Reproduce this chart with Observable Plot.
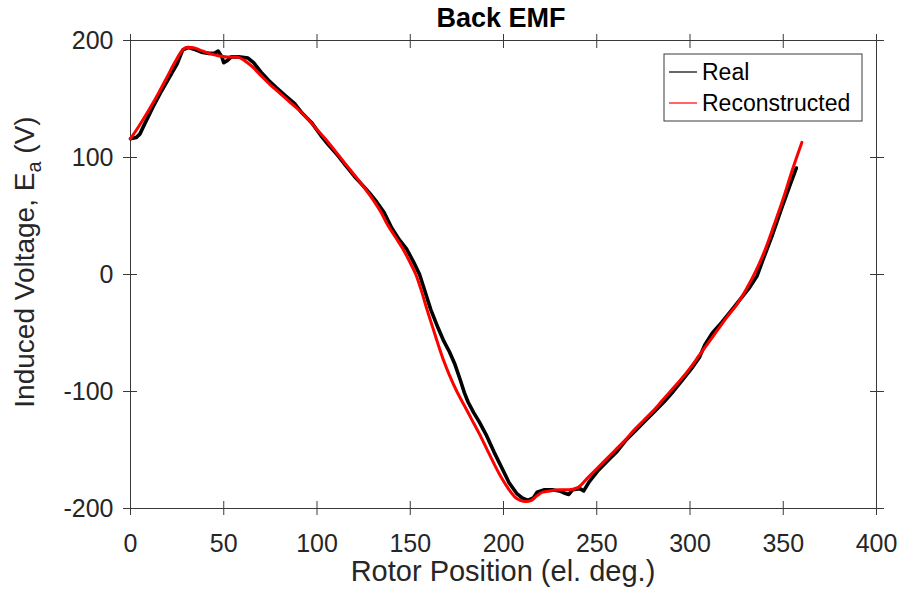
<!DOCTYPE html>
<html><head><meta charset="utf-8">
<script src="https://cdn.jsdelivr.net/npm/d3@7"></script>
<script src="https://cdn.jsdelivr.net/npm/@observablehq/plot@0.6"></script>
<style>body{margin:0;background:#fff} svg{display:block}</style>
</head><body><div id="chart"></div>
<script>
// Measured (Real) back EMF
const realX = [0,3,5,8,12,16,21,25,28,31,35,38,42,45,47,49,50,52,54,58,63,66,70,74,78,83,88,92,97,102,106,111,115,120,124,128,132,136,140,144,148,152,155,158,161,165,168,171,174,177,179,181,184,187,191,195,199,203,207,210,213,216,218,222,226,230,233,235,237,241,243,246,251,256,261,266,271,276,281,286,291,296,301,305,308,312,317,322,327,332,336,339,344,349,354,357];
const realY = [116,117,120,130,143,155,169,180,192,194,192,190,189,189,191,186,181,183,186,186,185,181,173,166,160,153,146,138,130,119,111,102,94,84,77,70,62,53,40,30,22,10,0,-15,-30,-46,-57,-66,-77,-91,-101,-109,-118,-126,-138,-152,-165,-178,-187,-191,-193,-191,-186,-184,-184,-185,-187,-188,-184,-183,-185,-177,-167,-159,-151,-141,-133,-125,-117,-109,-100,-90,-80,-71,-60,-50,-41,-31,-21,-11,-1,12,33,56,78,91];
// Reconstructed back EMF
const reconX = [0,5,10,15,20,24,27,30,33,37,42,47,52,57,61,65,70,75,80,85,90,95,100,105,110,115,120,125,130,134,138,142,146,150,153,156,159,162,165,168,171,175,179,183,187,191,195,199,203,206,209,212,215,218,221,225,230,235,240,245,250,255,260,265,270,275,280,285,290,295,300,305,310,315,320,325,330,335,340,345,350,355,360];
const reconY = [116,128,141,155,170,182,190,194,194,192,189,187,186,186,183,178,170,162,155,148,141,133,124,115,105,95,85,75,64,54,42,32,22,10,0,-14,-30,-45,-60,-74,-86,-100,-112,-124,-136,-149,-162,-174,-184,-190,-193,-194,-193,-189,-186,-185,-184,-184,-182,-174,-166,-158,-150,-142,-133,-125,-117,-108,-99,-90,-80,-69,-58,-47,-36,-26,-13,2,20,42,65,90,113];

const xTicks = [0,50,100,150,200,250,300,350,400];
const yTicks = [-200,-100,0,100,200];
const seriesNames = ["Real","Reconstructed"];
const seriesColors = ["#000000","#ff0000"];

const real = realX.map((x,i)=>({x, y: realY[i]}));
const recon = reconX.map((x,i)=>({x, y: reconY[i]}));

const font = "'Liberation Sans', Arial, sans-serif";
const axisColor = "#3a3a3a";
const textColor = "#262626";
const blank = () => "";
const plain = d => String(d);

const chart = Plot.plot({
  width: 899, height: 598,
  marginLeft: 130, marginRight: 23, marginTop: 40, marginBottom: 90,
  style: {fontFamily: font, color: textColor, background: "#fff"},
  x: {domain: [0,400]},
  y: {domain: [-200,200]},
  marks: [
    Plot.frame({stroke: axisColor, strokeWidth: 1}),
    // ticks crossing the box on all four sides
    Plot.axisX(xTicks, {anchor: "bottom", tickSize: 14, dy: -7, tickFormat: blank, label: null, stroke: axisColor}),
    Plot.axisX(xTicks, {anchor: "top", tickSize: 14, dy: 7, tickFormat: blank, label: null, stroke: axisColor}),
    Plot.axisY(yTicks, {anchor: "left", tickSize: 14, dx: 7, tickFormat: blank, label: null, stroke: axisColor}),
    Plot.axisY(yTicks, {anchor: "right", tickSize: 14, dx: -7, tickFormat: blank, label: null, stroke: axisColor}),
    // tick labels
    Plot.axisX(xTicks, {anchor: "bottom", tickSize: 0, tickPadding: 26, label: null, fontSize: 25, fill: textColor, tickFormat: plain}),
    Plot.axisY(yTicks, {anchor: "left", tickSize: 0, tickPadding: 17, label: null, fontSize: 25, fill: textColor, tickFormat: plain}),
    Plot.line(real, {x: "x", y: "y", stroke: seriesColors[0], strokeWidth: 3.6, curve: "linear"}),
    Plot.line(recon, {x: "x", y: "y", stroke: seriesColors[1], strokeWidth: 3, curve: "monotone-x"})
  ]
});
document.getElementById("chart").append(chart);

const svg = d3.select(chart);
svg.append("text").attr("x", 501).attr("y", 27).attr("text-anchor", "middle")
  .attr("font-family", font).attr("font-weight", "bold").attr("font-size", 27).attr("fill", "#000")
  .text("Back EMF");
svg.append("text").attr("x", 503).attr("y", 581).attr("text-anchor", "middle")
  .attr("font-family", font).attr("font-size", 29).attr("fill", textColor)
  .text("Rotor Position (el. deg.)");
const yl = svg.append("text").attr("transform", "translate(34,262) rotate(-90)").attr("text-anchor", "middle")
  .attr("font-family", font).attr("font-size", 28).attr("fill", textColor);
yl.append("tspan").text("Induced Voltage, E");
yl.append("tspan").attr("dy", 7).attr("font-size", 20).text("a");
yl.append("tspan").attr("dy", -7).text(" (V)");

// legend
const lg = svg.append("g");
lg.append("rect").attr("x", 664).attr("y", 54).attr("width", 198).attr("height", 67)
  .attr("fill", "#fff").attr("stroke", axisColor).attr("stroke-width", 1);
seriesNames.forEach((name, i) => {
  const cy = 72 + i*31;
  lg.append("line").attr("x1", 669).attr("x2", 697).attr("y1", cy).attr("y2", cy)
    .attr("stroke", seriesColors[i]).attr("stroke-width", 1.2);
  lg.append("text").attr("x", 702).attr("y", cy + 8).attr("text-anchor", "start").attr("font-family", font)
    .attr("font-size", 23).attr("fill", "#000").text(name);
});
</script>
</body></html>
